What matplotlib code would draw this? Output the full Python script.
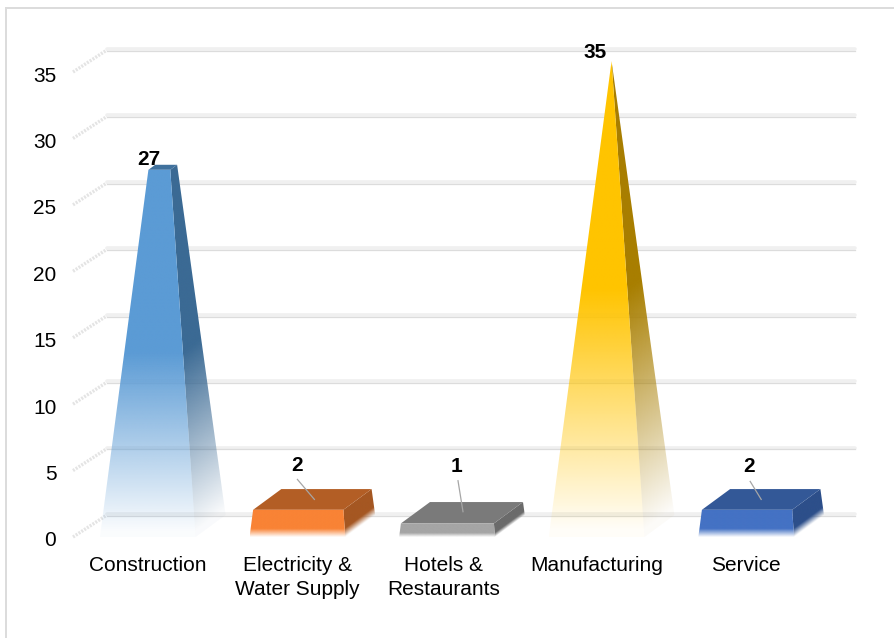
import numpy as np
import matplotlib
matplotlib.use("Agg")
import matplotlib.pyplot as plt
from matplotlib.colors import to_rgb
from matplotlib.lines import Line2D
from matplotlib.patches import Polygon
from matplotlib.transforms import ScaledTranslation

plt.rcParams['font.family'] = ['Liberation Sans', 'DejaVu Sans']

categories = ['Construction', 'Electricity &\nWater Supply', 'Hotels &\nRestaurants', 'Manufacturing', 'Service']
values = [27, 2, 1, 35, 2]
y_ticks = [0, 5, 10, 15, 20, 25, 30, 35]

front_colors = ['#5b9bd5', '#f98335', '#a5a5a5', '#ffc400', '#4472c4']
top_colors = ['#40719d', '#b35e25', '#7a7a7a', '#bb8c00', '#335897']
side_colors = ['#3b6a94', '#a55722', '#6b6b6b', '#a87e00', '#2d4f8a']
fade_parts = [0.5, 0.3, 0.3, 0.52, 0.3]

W, H = 895, 638
LEFT, RIGHT, BOTTOM, TOP = 73, 821, 537, 72
YMAX = 35
WALL_DX = 0.227
DX = 0.2       # depth of the bars, in category units
DY = 1.655     # depth, in value units
HALF = 0.32

fig = plt.figure(figsize=(W / 100, H / 100), dpi=100)
ax = fig.add_axes([LEFT / W, 1 - BOTTOM / H, (RIGHT - LEFT) / W, (BOTTOM - TOP) / H])
ax.set_xlim(-0.5, 4.5)
ax.set_ylim(0, YMAX)
ax.patch.set_visible(False)
for s in ax.spines.values():
    s.set_visible(False)

px_x = 5 / (RIGHT - LEFT)
px_y = YMAX / (BOTTOM - TOP)


# point of the pyramid: u = -1..1 across, d = -0.5..0.5 front to back
def point(c, u, d, v):
    s = 1 - v / YMAX
    return c + DX / 2 + u * HALF * s + d * s * DX, v + DY / 2 + d * s * DY


def faded_face(corners, v_fn, color, value, fade, zorder):
    xs = [p[0] for p in corners]
    ys = [p[1] for p in corners]
    ext = (min(xs), max(xs), min(ys), max(ys))
    gx = np.linspace(ext[0], ext[1], 300)
    gy = np.linspace(ext[2], ext[3], 500)
    xx, yy = np.meshgrid(gx, gy)
    v = v_fn(xx, yy)
    alpha = np.clip(v / (value * fade), 0.03, 1)
    img = np.zeros(xx.shape + (4,))
    img[..., :3] = to_rgb(color)
    img[..., 3] = alpha
    im = ax.imshow(img, extent=ext, origin='lower', aspect='auto', zorder=zorder,
                   interpolation='bilinear')
    im.set_clip_box(fig.bbox)
    im.set_clip_path(Polygon(corners, closed=True, transform=ax.transData))


# walls and gridlines
for t in y_ticks:
    ax.plot([-0.5, -0.5 + WALL_DX], [t, t + DY], color='#e4e4e4', lw=2.4, ls=(0, (0.6, 0.4)),
            clip_on=False, zorder=1)
    ax.plot([-0.5 + WALL_DX, 4.5 + WALL_DX], [t + DY + 0.08, t + DY + 0.08], color='#f0f0f0', lw=2.6,
            clip_on=False, zorder=1, solid_capstyle='round')
    ax.plot([-0.5 + WALL_DX, 4.5 + WALL_DX], [t + DY - 0.06, t + DY - 0.06], color='#dcdcdc', lw=0.9,
            clip_on=False, zorder=1.1)

# pyramids
for i, val in enumerate(values):
    fade = fade_parts[i]
    z = 3 + i

    def v_front(xx, yy):
        return yy / (1 + DY / (2 * YMAX))

    def v_side(xx, yy, c=i):
        slope = DY / DX
        return (yy - DY / 2 - (xx - c - DX / 2 - HALF) * slope) / (1 + HALF * slope / YMAX)

    fl0, fr0 = point(i, -1, -0.5, 0), point(i, 1, -0.5, 0)
    fl1, fr1 = point(i, -1, -0.5, val), point(i, 1, -0.5, val)
    bl1, br1 = point(i, -1, 0.5, val), point(i, 1, 0.5, val)
    br0 = point(i, 1, 0.5, 0)

    faded_face([fr0, br0, br1, fr1], v_side, side_colors[i], val, fade, z)
    if val < YMAX:
        ax.add_patch(Polygon([fl1, fr1, br1, bl1], closed=True, facecolor=top_colors[i],
                             edgecolor='none', zorder=z + 0.1, clip_on=False))
    faded_face([fl0, fr0, fr1, fl1], v_front, front_colors[i], val, fade, z + 0.2)

ax.set_xlim(-0.5, 4.5)
ax.set_ylim(0, YMAX)

# data labels, offsets in pixels from the front top of each bar
label_off = [(1, 19), (0, 45), (9, 57), (-1, 19), (3, 44)]
leaders = [None, ((0, 31), (17, 11)), ((11, 43), (16, 12)), None, ((4, 29), (15, 11))]
for i, val in enumerate(values):
    ox, oy = label_off[i]
    ax.text(i + ox * px_x, val + oy * px_y, str(val), ha='center', va='center', fontsize=15,
            fontweight='bold', color='black', zorder=20, clip_on=False)
    if leaders[i]:
        a, b = leaders[i]
        ax.plot([i + a[0] * px_x, i + b[0] * px_x], [val + a[1] * px_y, val + b[1] * px_y],
                color='#a6a6a6', lw=0.9, zorder=19, clip_on=False)

ax.set_yticks(y_ticks)
ax.set_xticks(range(len(categories)))
ax.set_xticklabels(categories, fontsize=15, linespacing=1.3)
ax.tick_params(axis='both', length=0, labelsize=15, labelcolor='black')
ax.tick_params(axis='y', pad=12)
ax.tick_params(axis='x', pad=14)

# the labels sit a little off their ticks in the original
for tl in ax.get_yticklabels():
    tl.set_transform(tl.get_transform() + ScaledTranslation(0, -2 / 100, fig.dpi_scale_trans))
hotels = ax.get_xticklabels()[2]
hotels.set_transform(hotels.get_transform() + ScaledTranslation(-3 / 100, 0, fig.dpi_scale_trans))

# chart frame, only top and left are in the picture
fig.add_artist(Line2D([6.5 / W, 6.5 / W], [0, 1 - 7.5 / H], color='#dcdcdc', lw=1.4))
fig.add_artist(Line2D([6.5 / W, 1], [1 - 7.5 / H, 1 - 7.5 / H], color='#dcdcdc', lw=1.4))

fig.savefig('out.png', dpi=100)
